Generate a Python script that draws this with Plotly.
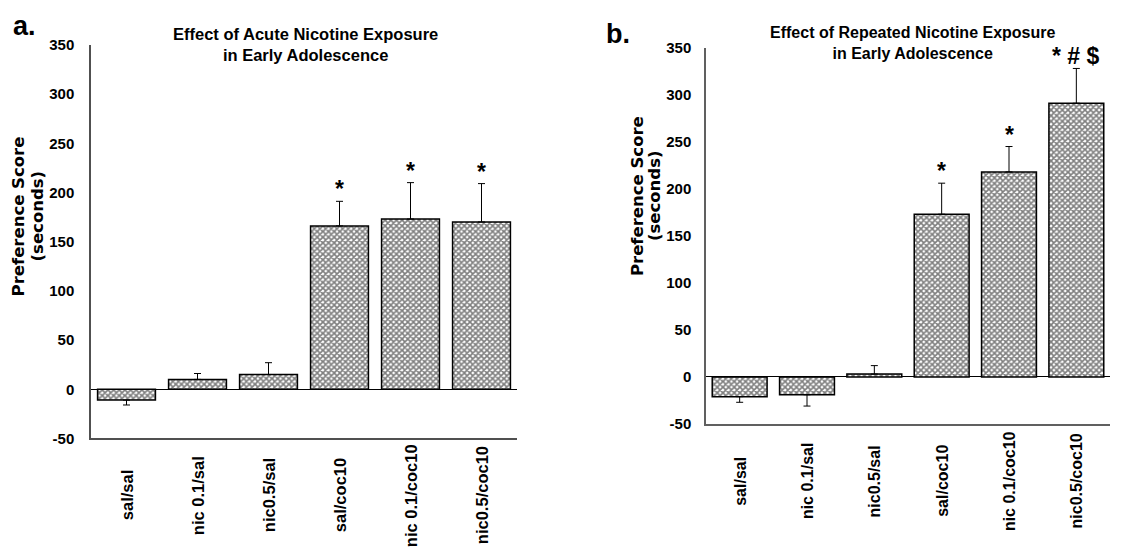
import plotly.graph_objects as go

categories = ["sal/sal", "nic 0.1/sal", "nic0.5/sal", "sal/coc10", "nic 0.1/coc10", "nic0.5/coc10"]
acute_mean = [-11, 10, 15, 166, 173, 170]
acute_sem = [5, 6, 12, 25, 37, 39]
acute_marks = ["", "", "", "*", "*", "*"]
repeated_mean = [-21, -19, 3, 173, 218, 291]
repeated_sem = [6, 12, 9, 33, 27, 37]
repeated_marks = ["", "", "", "*", "*", "* # $"]
y_ticks = [-50, 0, 50, 100, 150, 200, 250, 300, 350]
y_tick_text = [str(v) for v in y_ticks]

ARIAL = "Liberation Sans, Arial, sans-serif"
W, H = 1132, 556


def px_x(p):
    return p / W


def px_y(p):
    return 1 - p / H


fig = go.Figure()


def add_panel(means, sems, xa, ya):
    plus = [s if m >= 0 else 0 for m, s in zip(means, sems)]
    minus = [s if m < 0 else 0 for m, s in zip(means, sems)]
    fig.add_trace(go.Bar(
        x=categories, y=means, xaxis=xa, yaxis=ya,
        marker=dict(color="white", line=dict(color="black", width=1.5),
                    pattern=dict(shape="x", fgcolor="black", bgcolor="white", size=4, solidity=0.65)),
        error_y=dict(type="data", symmetric=False, array=plus, arrayminus=minus,
                     color="black", thickness=1, width=3.5),
        showlegend=False, hoverinfo="skip",
    ))


add_panel(acute_mean, acute_sem, "x", "y")
add_panel(repeated_mean, repeated_sem, "x2", "y2")

axis_common = dict(showgrid=False, ticks="", showline=True, mirror=False)
tickfont = dict(family=ARIAL, size=15, weight="bold")

fig.update_layout(
    width=W, height=H, margin=dict(l=0, r=0, t=0, b=0),
    paper_bgcolor="white", plot_bgcolor="white", bargap=0.185,
    font=dict(family=ARIAL, size=15, color="black", weight="bold"),
    xaxis=dict(domain=[px_x(91), px_x(517)], anchor="y", showticklabels=False,
               range=[-0.5, 5.5], linecolor="#505050", linewidth=1.5, **axis_common),
    yaxis=dict(domain=[px_y(443), px_y(37)], anchor="x", range=[-50, 350],
               tickvals=y_ticks, ticktext=y_tick_text, linecolor="#505050", linewidth=1.5,
               zeroline=True, zerolinecolor="black", zerolinewidth=1,
               ticklabelstandoff=12, tickfont=tickfont, **axis_common),
    xaxis2=dict(domain=[px_x(706), px_x(1110)], anchor="y2", showticklabels=False,
                range=[-0.5, 5.5], linecolor="#606060", linewidth=1.5, **axis_common),
    yaxis2=dict(domain=[px_y(428), px_y(40)], anchor="x2", range=[-50, 350],
                tickvals=y_ticks, ticktext=y_tick_text, linecolor="#606060", linewidth=1.5,
                zeroline=True, zerolinecolor="black", zerolinewidth=1,
                ticklabelstandoff=10, tickfont=tickfont, **axis_common),
)

ann = []
# category labels
for xr, ypix, fs in (("x", 502, 16.5), ("x2", 487, 16)):
    for c in categories:
        ann.append(dict(x=c, xref=xr, y=px_y(ypix), yref="paper", text=c, textangle=-90,
                        showarrow=False, xanchor="center", yanchor="middle",
                        font=dict(family=ARIAL, size=fs, weight="bold")))
# significance marks
for xr, yr, means, sems, marks in (("x", "y", acute_mean, acute_sem, acute_marks),
                                   ("x2", "y2", repeated_mean, repeated_sem, repeated_marks)):
    for c, m, s, t in zip(categories, means, sems, marks):
        if t:
            ann.append(dict(x=c, xref=xr, y=m + s, yref=yr, text=t, showarrow=False,
                            xanchor="center", yanchor="middle", yshift=12,
                            font=dict(family=ARIAL, size=23, weight="bold")))
# titles
ann.append(dict(x=px_x(305), y=px_y(37), xref="paper", yref="paper",
                text="Effect of Acute Nicotine Exposure<br>in Early Adolescence",
                showarrow=False, xanchor="center", yanchor="middle",
                font=dict(family=ARIAL, size=16.5, weight="bold")))
ann.append(dict(x=px_x(912), y=px_y(35), xref="paper", yref="paper",
                text="Effect of Repeated Nicotine Exposure<br>in Early Adolescence",
                showarrow=False, xanchor="center", yanchor="middle",
                font=dict(family=ARIAL, size=16, weight="bold")))
# y-axis titles
for (x1, x2, yc) in ((18, 37, 214), (637, 654, 193)):
    ann.append(dict(x=px_x(x1), y=px_y(yc), xref="paper", yref="paper",
                    text="Preference Score", textangle=-90,
                    showarrow=False, xanchor="center", yanchor="middle",
                    font=dict(family="DejaVu Sans", size=16.5, weight="bold")))
    ann.append(dict(x=px_x(x2), y=px_y(yc), xref="paper", yref="paper",
                    text="(seconds)", textangle=-90,
                    showarrow=False, xanchor="center", yanchor="middle",
                    font=dict(family="DejaVu Sans", size=16.5, weight="bold")))
# panel letters
ann.append(dict(x=px_x(24), y=px_y(18), xref="paper", yref="paper", text="a.",
                showarrow=False, xanchor="center", yanchor="middle",
                font=dict(family=ARIAL, size=27, weight="bold")))
ann.append(dict(x=px_x(618), y=px_y(26), xref="paper", yref="paper", text="b.",
                showarrow=False, xanchor="center", yanchor="middle",
                font=dict(family=ARIAL, size=27, weight="bold")))

fig.update_layout(annotations=ann)
fig.write_html("out.html", config={"displayModeBar": False},
               post_script="document.body.style.margin='0';document.body.style.padding='0';")
